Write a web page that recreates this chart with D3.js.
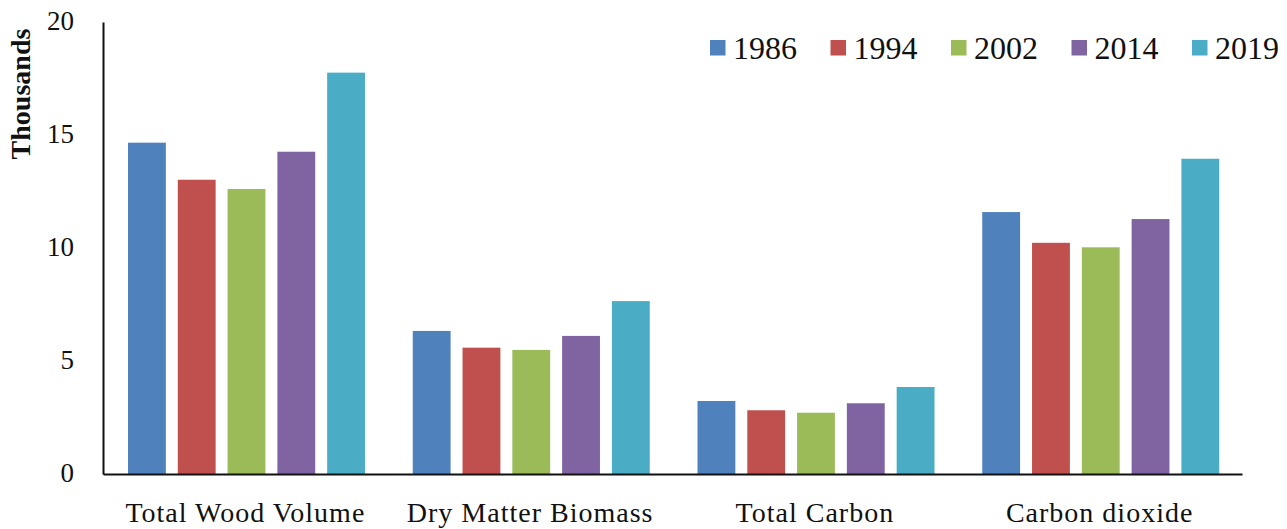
<!DOCTYPE html>
<html>
<head>
<meta charset="utf-8">
<script src="https://cdn.jsdelivr.net/npm/d3@7/dist/d3.min.js"></script>
<style>
  html, body { margin: 0; padding: 0; background: #fff; }
  svg { display: block; }
  text { font-family: "Liberation Serif", "Times New Roman", serif; fill: #111; }
</style>
</head>
<body>
<svg id="chart" width="1287" height="529"></svg>
<script>
// Biomass and carbon stock estimates (thousands) by survey year
const categories = ["Total Wood Volume", "Dry Matter Biomass", "Total Carbon", "Carbon dioxide"];
const years = ["1986", "1994", "2002", "2014", "2019"];
const values1986 = [14.66, 6.33, 3.23, 11.59];
const values1994 = [13.02, 5.59, 2.82, 10.23];
const values2002 = [12.61, 5.49, 2.71, 10.03];
const values2014 = [14.26, 6.11, 3.13, 11.28];
const values2019 = [17.76, 7.65, 3.85, 13.95];
const yTicks = [0, 5, 10, 15, 20];
const colors = ["#4F81BD", "#C0504D", "#9BBB59", "#8064A2", "#4BACC6"];

const seriesValues = [values1986, values1994, values2002, values2014, values2019];

const svg = d3.select("#chart");
const plotLeft = 103, plotRight = 1242, plotTop = 22, plotBottom = 474;

const x0 = d3.scaleBand().domain(categories).range([plotLeft, plotRight]).padding(0);
const x1 = d3.scaleBand().domain(years).range([25, 262]).paddingInner(0.24).paddingOuter(0);
const y = d3.scaleLinear().domain([0, 20]).range([plotBottom, plotTop]);
const color = d3.scaleOrdinal().domain(years).range(colors);

// Bars
const groups = svg.append("g")
  .selectAll("g")
  .data(categories)
  .join("g")
  .attr("transform", d => `translate(${x0(d)},0)`);

groups.selectAll("rect")
  .data((c, ci) => years.map((yr, si) => ({ year: yr, value: seriesValues[si][ci] })))
  .join("rect")
  .attr("x", d => x1(d.year))
  .attr("y", d => y(d.value))
  .attr("width", x1.bandwidth())
  .attr("height", d => y(0) - y(d.value))
  .attr("fill", d => color(d.year));

// Y axis
const yAxis = svg.append("g")
  .attr("transform", `translate(${plotLeft},0)`)
  .call(d3.axisLeft(y).tickValues(yTicks).tickSize(0).tickSizeOuter(0).tickPadding(29));
yAxis.select(".domain").attr("stroke", "#111").attr("stroke-width", 2);
yAxis.selectAll("text")
  .attr("font-size", 27)
  .attr("font-family", "Liberation Serif")
  .attr("fill", "#111")
  .attr("dy", "0.28em");

// X axis
const xAxis = svg.append("g")
  .attr("transform", `translate(0,${plotBottom})`)
  .call(d3.axisBottom(x0).tickSize(0).tickSizeOuter(0));
xAxis.select(".domain").attr("stroke", "#111").attr("stroke-width", 2);
xAxis.selectAll("text")
  .attr("font-size", 28)
  .attr("font-family", "Liberation Serif")
  .attr("letter-spacing", "1px")
  .attr("fill", "#111")
  .attr("y", 48)
  .attr("dy", 0);

// Y axis title
svg.append("text")
  .attr("transform", "translate(30,94) rotate(-90)")
  .attr("text-anchor", "middle")
  .attr("font-size", 28)
  .attr("font-weight", "bold")
  .text("Thousands");

// Legend
const legend = svg.append("g")
  .selectAll("g")
  .data(years)
  .join("g")
  .attr("transform", (d, i) => `translate(${710 + i * 120.5},40)`);
legend.append("rect")
  .attr("width", 15.5)
  .attr("height", 15.5)
  .attr("fill", d => color(d));
legend.append("text")
  .attr("x", 23)
  .attr("y", 19)
  .attr("font-size", 32)
  .text(d => d);
</script>
</body>
</html>
